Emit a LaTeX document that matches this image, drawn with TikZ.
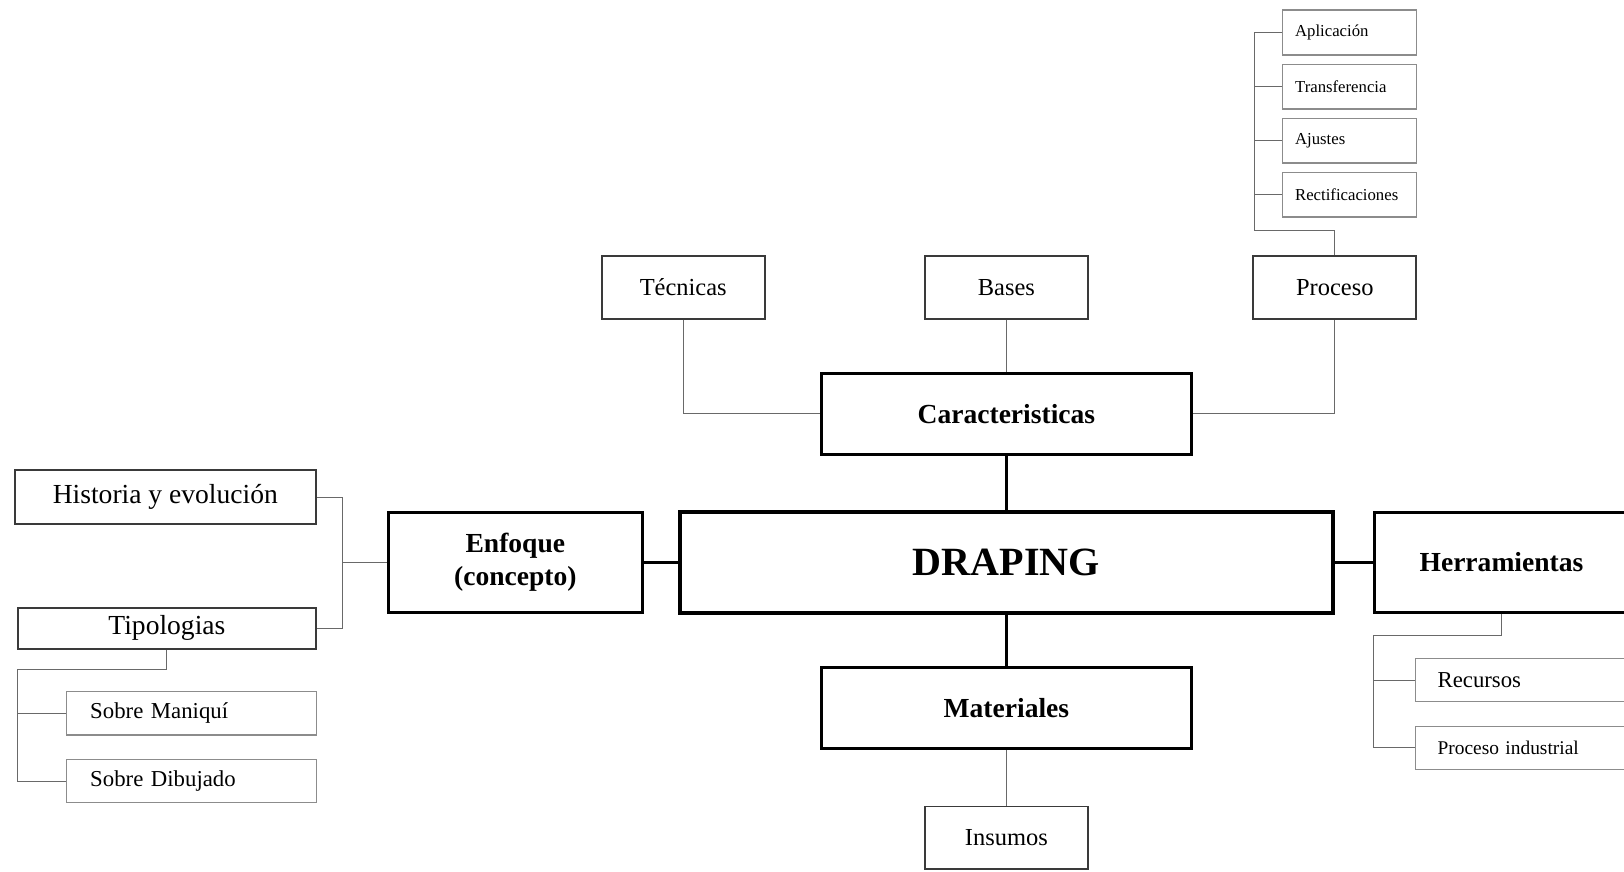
\documentclass[tikz,border=0pt]{standalone}
\usepackage{fontspec}
\setmainfont{Liberation Serif}
\usetikzlibrary{positioning}
\definecolor{boxColor}{RGB}{58,58,58}
\definecolor{itemColor}{RGB}{140,140,140}
\definecolor{lineColor}{RGB}{105,105,105}
\newcommand{\rootfont}{\fontsize{28.5}{32}\selectfont\bfseries}
\newcommand{\branchfont}{\fontsize{19.6}{23.6}\selectfont\bfseries}
\newcommand{\headfont}{\fontsize{19.6}{23}\selectfont}
\newcommand{\leaffont}{\fontsize{17.4}{20}\selectfont}
\newcommand{\itemfont}{\fontsize{16.2}{19}\selectfont}
\newcommand{\subitemfont}{\fontsize{11.9}{14}\selectfont}

\begin{document}
\begin{tikzpicture}[
        core/.style={draw, line width=2.8pt, minimum width=16.33cm, minimum height=2.53cm, inner sep=0pt, font=\rootfont},
        branch/.style={draw, line width=2.1pt, minimum height=2.03cm, inner sep=0pt, align=center, font=\branchfont},
        leaf/.style={draw=boxColor, line width=1.4pt, minimum width=4.08cm, minimum height=1.57cm, inner sep=0pt, font=\leaffont},
        head/.style={draw=boxColor, line width=1.4pt, inner sep=0pt, font=\headfont},
        item/.style={draw=itemColor, line width=0.9pt, minimum height=1.08cm, inner ysep=0pt, inner xsep=0.6cm, text width=5.05cm, align=left, font=\itemfont},
        subitem/.style={draw=itemColor, line width=0.9pt, minimum height=1.12cm, inner ysep=0pt, inner xsep=0.31cm, text width=2.73cm, align=left, font=\subitemfont},
        link/.style={lineColor, line width=0.8pt},
        trunk/.style={black, line width=1.6pt}
      ]
      \clip (0,0) rectangle (40.6,21.8);
      \node[core] (drap) at (25.16,7.74) {DRAPING};
      \node[branch, minimum width=9.25cm, above=1.35cm of drap] (car) {Caracteristicas};
      \node[branch, minimum width=9.25cm, below=1.28cm of drap] (mat) {Materiales};
      \node[branch, minimum width=6.35cm, minimum height=2.5cm, left=0.85cm of drap] (enf) {Enfoque\\(concepto)};
      \node[branch, minimum width=6.35cm, minimum height=2.5cm, right=0.95cm of drap] (her) {Herramientas};
      \node[leaf, above=1.3cm of car] (bas) {Bases};
      \node[leaf, left=3.95cm of bas] (tec) {Técnicas};
      \node[leaf, right=4.08cm of bas] (pro) {Proceso};
      \node[leaf, below=1.38cm of mat] (ins) {Insumos};
      \node[head, minimum width=7.53cm, minimum height=1.35cm, left=1.75cm of enf, yshift=1.63cm] (hist) {Historia y evolución};
      \node[head, minimum width=7.45cm, minimum height=1.03cm, left=1.75cm of enf, yshift=-1.65cm] (tip) {Tipologias};
      \node[item, below left=1.03cm and 0cm of tip.south east] (sman) {Sobre Maniquí};
      \node[item, below=0.58cm of sman] (sdib) {Sobre Dibujado};
      \node[item, inner xsep=0.55cm, below right=1.1cm and 1.05cm of her.south west] (rec) {Recursos};
      \node[item, inner xsep=0.55cm, font=\fontsize{13.8}{16}\selectfont, below=0.58cm of rec] (pind) {Proceso industrial};
      \node[subitem, above left=0.93cm and 0cm of pro.north east] (rect) {Rectificaciones};
      \node[subitem, above=0.2cm of rect] (aju) {Ajustes};
      \node[subitem, above=0.2cm of aju] (tra) {Transferencia};
      \node[subitem, above=0.2cm of tra] (apl) {Aplicación};

      \coordinate[above=0.6cm of pro.north] (pj);
      \coordinate[left=0.7cm of apl.west] (pbus);
      \coordinate[left=1.1cm of enf.west] (ej);
      \coordinate[below=0.48cm of tip.south] (tj);
      \coordinate[left=1.21cm of sman.west] (tbus);
      \coordinate[below=0.55cm of her.south] (hj);
      \coordinate[left=1.03cm of rec.west] (hbus);

      \draw[trunk] (car) -- (drap);
      \draw[trunk] (drap) -- (mat);
      \draw[trunk] (enf) -- (drap);
      \draw[trunk] (drap) -- (her);
      \draw[link] (bas) -- (car);
      \draw[link] (tec.south) |- (car.west);
      \draw[link] (car.east) -| (pro.south);
      \draw[link] (mat) -- (ins);
      \draw[link] (pro.north) -- (pj) -| (pbus) -- (apl.west);
      \foreach \n in {tra,aju,rect}
        \draw[link] (pbus |- \n.west) -- (\n.west);
      \draw[link] (enf.west) -- (ej);
      \draw[link] (hist.east) -| (ej) |- (tip.east);
      \draw[link] (tip.south) -- (tj) -| (tbus) -- (sman.west);
      \draw[link] (tbus) |- (sdib.west);
      \draw[link] (her.south) -- (hj) -| (hbus) -- (rec.west);
      \draw[link] (hbus) |- (pind.west);
    \end{tikzpicture}
\end{document}
